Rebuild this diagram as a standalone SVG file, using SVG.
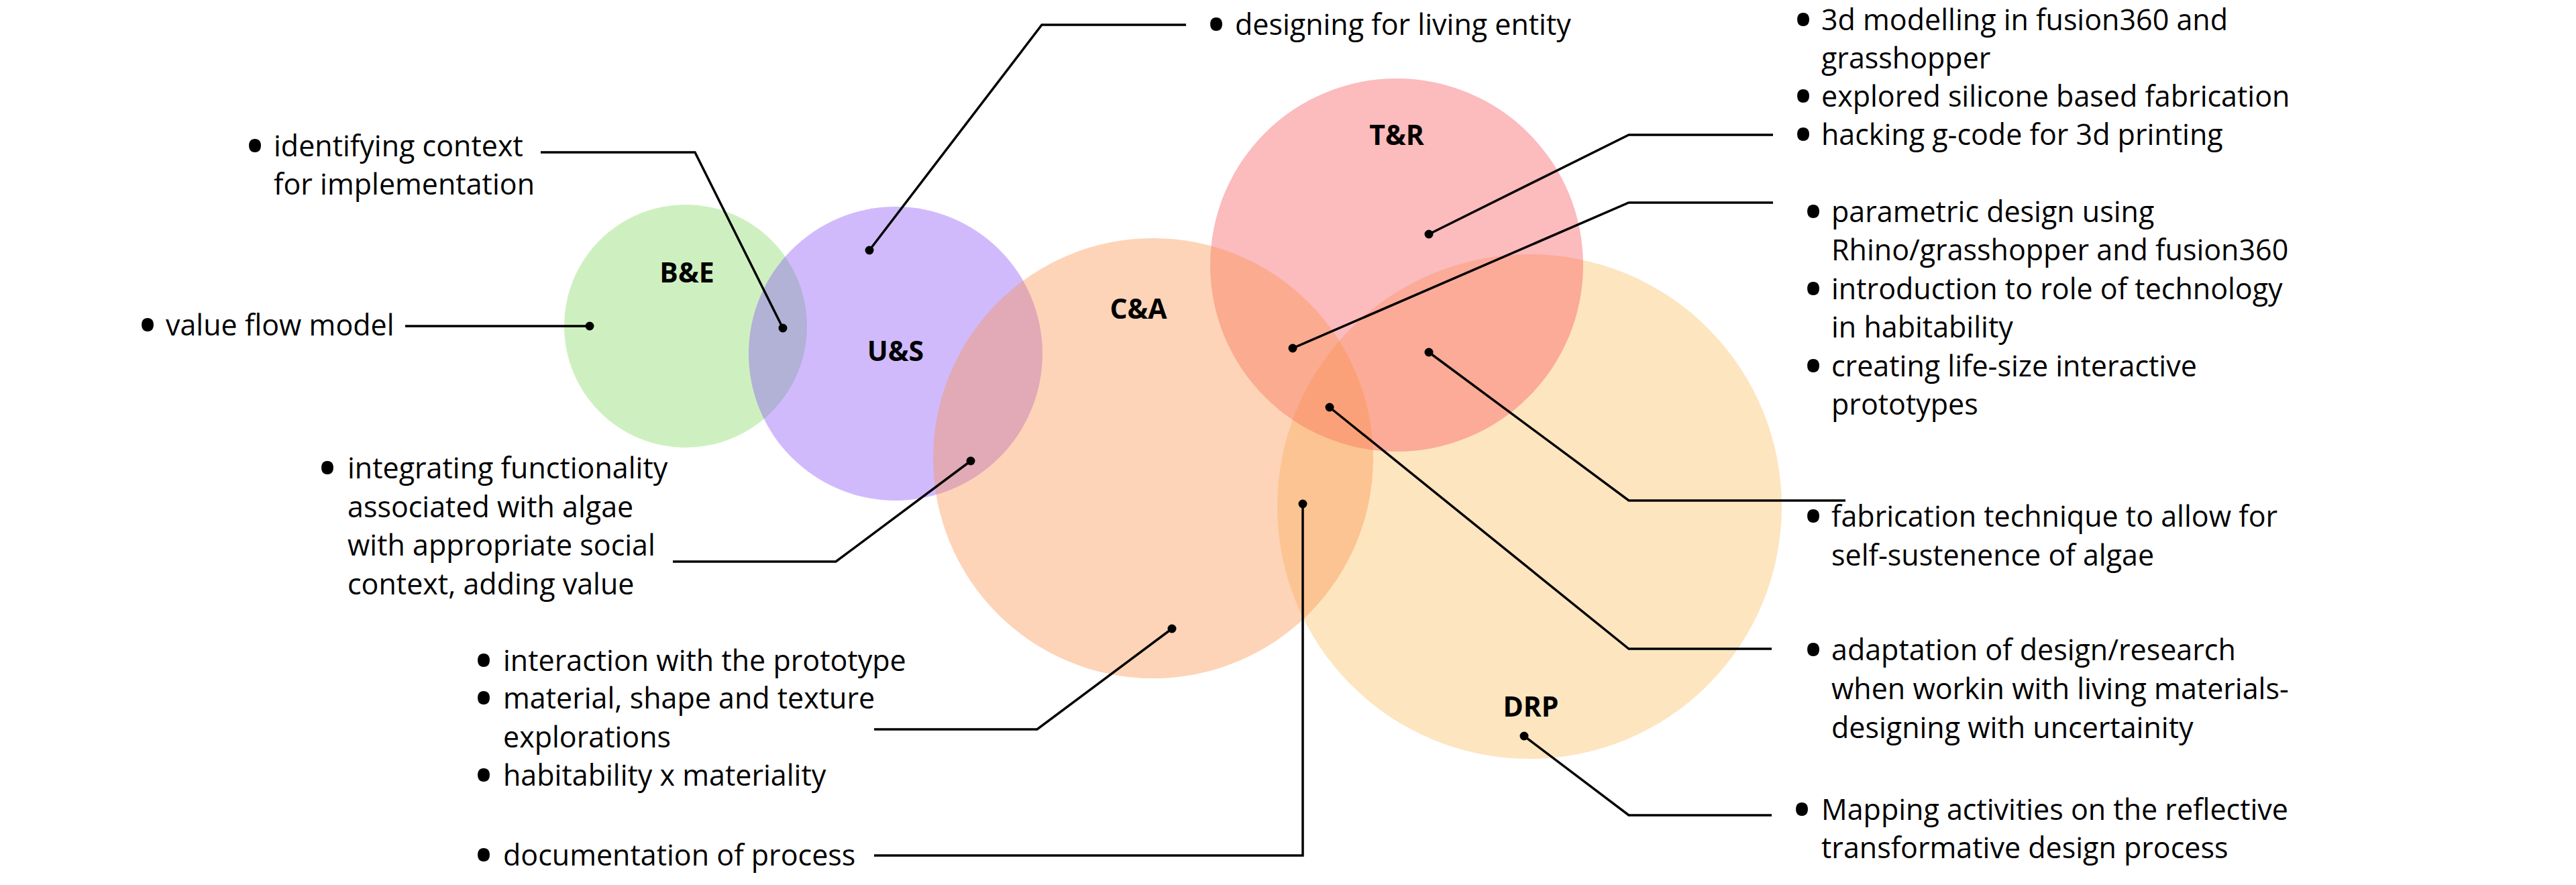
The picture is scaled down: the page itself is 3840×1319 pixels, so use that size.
<svg xmlns="http://www.w3.org/2000/svg" width="3840" height="1319" viewBox="0 0 3840 1319">
<style>
.t{font-family:"Open Sans","Liberation Sans",sans-serif;font-size:43px;fill:#000}
.b{font-size:64px;font-weight:700}
.lbl{font-family:"Open Sans","Liberation Sans",sans-serif;font-size:41px;font-weight:700;fill:#000;text-anchor:middle}
.c{fill-opacity:0.4}
.ln{fill:none;stroke:#000;stroke-width:3.5;stroke-linejoin:miter}
.dot{fill:#000}
</style>
<rect width="3840" height="1319" fill="#fff"/>
<g id="node-BE"><circle class="c" cx="1022" cy="486" r="181" fill="#85da62"/><text class="lbl" x="1024" y="421">B&amp;E</text></g>
<g id="node-US"><circle class="c" cx="1335" cy="527" r="219" fill="#8a53f8"/><text class="lbl" x="1335" y="538">U&amp;S</text></g>
<g id="node-DRP"><circle class="c" cx="2280" cy="755" r="376" fill="#fabe62"/><text class="lbl" x="2282" y="1068">DRP</text></g>
<g id="node-TR"><circle class="c" cx="2082" cy="395" r="278" fill="#f8555a"/><text class="lbl" x="2082" y="216">T&amp;R</text></g>
<g id="node-CA"><circle class="c" cx="1719" cy="683" r="328" fill="#fa944e"/><text class="lbl" x="1697" y="475">C&amp;A</text></g>

<g id="connectors">
<path class="ln" d="M1296,373 L1553,37 L1768,37"/><circle class="dot" cx="1296" cy="373" r="6.5"/>
<path class="ln" d="M806,227 L1036,227 L1167,489"/><circle class="dot" cx="1167" cy="489" r="6.5"/>
<path class="ln" d="M604,486 L879,486"/><circle class="dot" cx="879" cy="486" r="6.5"/>
<path class="ln" d="M1447,687 L1246,837 L1003,837"/><circle class="dot" cx="1447" cy="687" r="6.5"/>
<path class="ln" d="M1747,937 L1546,1087 L1303,1087"/><circle class="dot" cx="1747" cy="937" r="6.5"/>
<path class="ln" d="M1303,1275 L1942,1275 L1942,751"/><circle class="dot" cx="1942" cy="751" r="6.5"/>
<path class="ln" d="M2130,349 L2428,201 L2643,201"/><circle class="dot" cx="2130" cy="349" r="6.5"/>
<path class="ln" d="M1927,519 L2428,302 L2643,302"/><circle class="dot" cx="1927" cy="519" r="6.5"/>
<path class="ln" d="M2130,525 L2428,746 L2751,746"/><circle class="dot" cx="2130" cy="525" r="6.5"/>
<path class="ln" d="M1982,607 L2428,967 L2641,967"/><circle class="dot" cx="1982" cy="607" r="6.5"/>
<path class="ln" d="M2272,1097 L2428,1215 L2641,1215"/><circle class="dot" cx="2272" cy="1097" r="6.5"/>
</g>

<g id="note-living">
<text class="t"><tspan class="b" x="1801" y="60">•</tspan><tspan x="1841" y="52">designing for living entity</tspan></text>
</g>
<g id="note-tr">
<text class="t"><tspan class="b" x="2676" y="53">•</tspan><tspan x="2715" y="45">3d modelling in fusion360 and</tspan><tspan x="2715" y="102">grasshopper</tspan><tspan class="b" x="2676" y="167">•</tspan><tspan x="2715" y="159">explored silicone based fabrication</tspan><tspan class="b" x="2676" y="224">•</tspan><tspan x="2715" y="216">hacking g-code for 3d printing</tspan></text>
</g>
<g id="note-context">
<text class="t"><tspan class="b" x="368" y="241">•</tspan><tspan x="408" y="233">identifying context</tspan><tspan x="408" y="290">for implementation</tspan></text>
</g>
<g id="note-value">
<text class="t"><tspan class="b" x="208" y="508">•</tspan><tspan x="247" y="500">value flow model</tspan></text>
</g>
<g id="note-parametric">
<text class="t"><tspan class="b" x="2691" y="339">•</tspan><tspan x="2730" y="331">parametric design using</tspan><tspan x="2730" y="388">Rhino/grasshopper and fusion360</tspan><tspan class="b" x="2691" y="454">•</tspan><tspan x="2730" y="446">introduction to role of technology</tspan><tspan x="2730" y="503">in habitability</tspan><tspan class="b" x="2691" y="569">•</tspan><tspan x="2730" y="561">creating life-size interactive</tspan><tspan x="2730" y="618">prototypes</tspan></text>
</g>
<g id="note-integrating">
<text class="t"><tspan class="b" x="476" y="721">•</tspan><tspan x="518" y="713">integrating functionality</tspan><tspan x="518" y="771">associated with algae</tspan><tspan x="518" y="828">with appropriate social</tspan><tspan x="518" y="886">context, adding value</tspan></text>
</g>
<g id="note-fabrication">
<text class="t"><tspan class="b" x="2691" y="793">•</tspan><tspan x="2730" y="785">fabrication technique to allow for</tspan><tspan x="2730" y="843">self-sustenence of algae</tspan></text>
</g>
<g id="note-adaptation">
<text class="t"><tspan class="b" x="2691" y="992">•</tspan><tspan x="2730" y="984">adaptation of design/research</tspan><tspan x="2730" y="1042">when workin with living materials-</tspan><tspan x="2730" y="1100">designing with uncertainity</tspan></text>
</g>
<g id="note-interaction">
<text class="t"><tspan class="b" x="709" y="1008">•</tspan><tspan x="750" y="1000">interaction with the prototype</tspan><tspan class="b" x="709" y="1064">•</tspan><tspan x="750" y="1056">material, shape and texture</tspan><tspan x="750" y="1114">explorations</tspan><tspan class="b" x="709" y="1179">•</tspan><tspan x="750" y="1171">habitability x materiality</tspan></text>
</g>
<g id="note-documentation">
<text class="t"><tspan class="b" x="709" y="1298">•</tspan><tspan x="750" y="1290">documentation of process</tspan></text>
</g>
<g id="note-mapping">
<text class="t"><tspan class="b" x="2674" y="1230">•</tspan><tspan x="2715" y="1222">Mapping activities on the reflective</tspan><tspan x="2715" y="1279">transformative design process</tspan></text>
</g>
</svg>
